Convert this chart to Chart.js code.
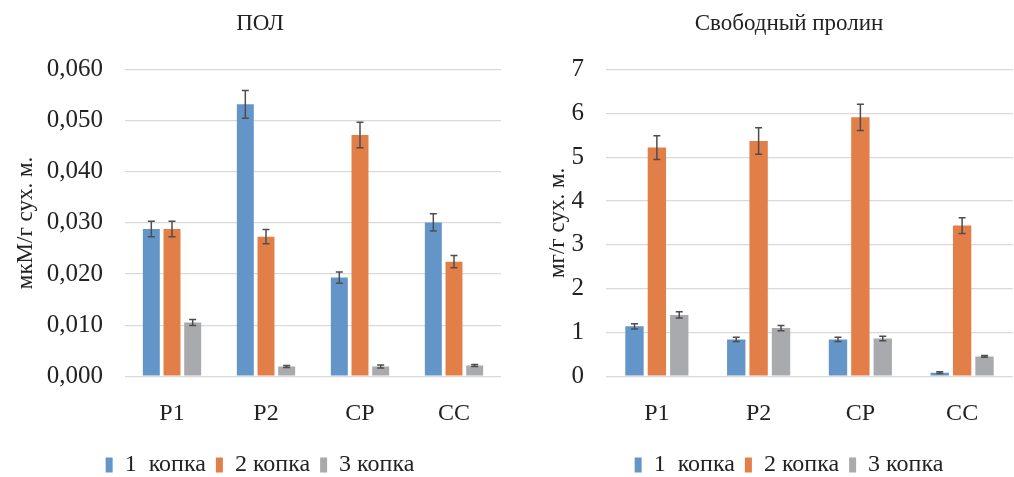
<!DOCTYPE html>
<html>
<head>
<meta charset="utf-8">
<script src="https://cdn.jsdelivr.net/npm/chart.js@4"></script>
<style>
  html, body { margin: 0; padding: 0; background: #fff; }
  #wrap { position: relative; width: 1014px; height: 477px; overflow: hidden; }
  .box { position: absolute; top: 0; height: 477px; }
</style>
</head>
<body>
<div id="wrap">
  <div class="box" style="left:0;width:520px"><canvas id="polChart"></canvas></div>
  <div class="box" style="left:540px;width:474px"><canvas id="prolineChart"></canvas></div>
</div>
<script>
const categories = ['Р1', 'Р2', 'СР', 'СС'];
const seriesNames = ['1  копка', '2 копка', '3 копка'];
const colors = ['#6495c9', '#e27f48', '#a8aaad'];

// ПОЛ, мкМ/г сух. м.
const pol1 = [0.0288, 0.0532, 0.0193, 0.0301];
const pol2 = [0.0288, 0.0273, 0.0472, 0.0224];
const pol3 = [0.0105, 0.0019, 0.0019, 0.0021];
const polErr1 = [0.0015, 0.0027, 0.0011, 0.0017];
const polErr2 = [0.0015, 0.0014, 0.0025, 0.0012];
const polErr3 = [0.0006, 0.0002, 0.0003, 0.0002];
const polTicks = { min: 0, max: 0.06, step: 0.01 };

// Свободный пролин, мг/г сух. м.
const pro1 = [1.14, 0.84, 0.84, 0.08];
const pro2 = [5.22, 5.37, 5.91, 3.44];
const pro3 = [1.40, 1.10, 0.86, 0.45];
const proErr1 = [0.06, 0.05, 0.05, 0.02];
const proErr2 = [0.27, 0.30, 0.30, 0.18];
const proErr3 = [0.07, 0.06, 0.05, 0.02];
const proTicks = { min: 0, max: 7, step: 1 };

const FONT = "'Liberation Serif', 'DejaVu Serif', serif";

const errorBarPlugin = {
  id: 'errorBars',
  afterDatasetsDraw(chart) {
    const ctx = chart.ctx;
    const yScale = chart.scales.y;
    ctx.save();
    ctx.strokeStyle = '#4d4d4d';
    ctx.lineWidth = 1.5;
    chart.data.datasets.forEach((ds, i) => {
      const meta = chart.getDatasetMeta(i);
      meta.data.forEach((bar, j) => {
        const v = ds.data[j];
        const e = ds.errors[j];
        const yTop = yScale.getPixelForValue(v + e);
        const yBot = yScale.getPixelForValue(v - e);
        const x = bar.x;
        ctx.beginPath();
        ctx.moveTo(x, yTop);
        ctx.lineTo(x, yBot);
        ctx.moveTo(x - 3.5, yTop);
        ctx.lineTo(x + 3.5, yTop);
        ctx.moveTo(x - 3.5, yBot);
        ctx.lineTo(x + 3.5, yBot);
        ctx.stroke();
      });
    });
    ctx.restore();
  }
};

function makeChart(canvasId, title, yTitle, values, errors, ticks, opts) {
  const ctx = document.getElementById(canvasId).getContext('2d');
  return new Chart(ctx, {
    type: 'bar',
    data: {
      labels: categories,
      datasets: values.map((vals, i) => ({
        label: seriesNames[i],
        data: vals,
        errors: errors[i],
        backgroundColor: colors[i],
        borderWidth: 0,
        categoryPercentage: 0.66,
        barPercentage: 0.82
      }))
    },
    options: {
      responsive: true,
      maintainAspectRatio: false,
      animation: false,
      layout: { padding: { left: opts.padLeft, right: opts.padRight, top: 0, bottom: -10 } },
      scales: {
        x: {
          grid: { display: false },
          border: { display: false },
          ticks: { color: '#222', padding: 15, font: { family: FONT, size: 24 } }
        },
        y: {
          min: ticks.min,
          max: ticks.max,
          afterFit: scale => { scale.width = opts.axisWidth; },
          grid: { color: '#d9d9d9', lineWidth: 1.2, drawTicks: false },
          border: { display: false },
          title: {
            display: true,
            text: yTitle,
            color: '#222',
            padding: { top: opts.titlePad, bottom: 0 },
            font: { family: FONT, size: 23 }
          },
          ticks: {
            stepSize: ticks.step,
            color: '#222',
            padding: 22,
            font: { family: FONT, size: 25 },
            callback: v => opts.fmt(v)
          }
        }
      },
      plugins: {
        title: {
          display: true,
          text: title,
          color: '#222',
          padding: { top: 10, bottom: 32 },
          font: { family: FONT, size: 23, weight: 'normal' }
        },
        legend: {
          position: 'bottom',
          labels: {
            color: '#222',
            boxWidth: 7,
            boxHeight: 15,
            padding: 10,
            font: { family: FONT, size: 24 }
          }
        },
        tooltip: { enabled: false }
      }
    },
    plugins: [errorBarPlugin]
  });
}

makeChart('polChart', 'ПОЛ', 'мкМ/г сух. м.',
  [pol1, pol2, pol3], [polErr1, polErr2, polErr3], polTicks,
  { padLeft: 19, padRight: 19, axisWidth: 106, titlePad: -7, fmt: v => v.toFixed(3).replace('.', ',') });

makeChart('prolineChart', 'Свободный пролин', 'мг/г сух. м.',
  [pro1, pro2, pro3], [proErr1, proErr2, proErr3], proTicks,
  { padLeft: 25, padRight: 1, axisWidth: 41, titlePad: -21, fmt: v => String(v) });
</script>
</body>
</html>
